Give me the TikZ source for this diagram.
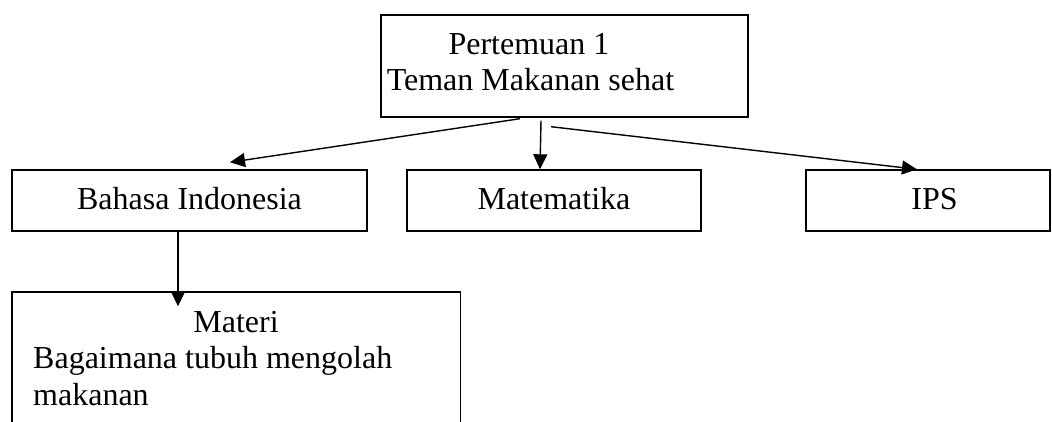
\documentclass[tikz,border=0pt]{standalone}
\usepackage{fontspec}
\setmainfont{Liberation Serif}
\usetikzlibrary{arrows.meta}
\begin{document}
\begin{tikzpicture}[x=1pt,y=-1pt,
  box/.style={draw,line width=1.4pt,rectangle,inner sep=0pt},
  txt/.style={anchor=base west,inner sep=0pt,font=\fontsize{32}{38}\selectfont},
  ctxt/.style={anchor=base,inner sep=0pt,font=\fontsize{32}{38}\selectfont},
  arr/.style={line width=1.4pt,-{Triangle[length=15pt,width=14pt]}}]
\useasboundingbox (0,0) rectangle (1052,422);
\clip (0,0) rectangle (1052,422);
% boxes
\node[box,minimum width=367pt,minimum height=102pt] (top) at (564.5,66) {};
\node[box,minimum width=355pt,minimum height=61pt] (bahasa) at (189.5,200.5) {};
\node[box,minimum width=294pt,minimum height=61pt] (mat) at (554,200.5) {};
\node[box,minimum width=244pt,minimum height=61pt] (ips) at (928,200.5) {};
\node[box,minimum width=448.5pt,minimum height=160pt] (materi) at (236.25,372) {};
% texts
\node[ctxt] (t1) at (529,55) {Pertemuan 1};
\node[ctxt] (t2) at (530.5,91) {Teman Makanan sehat};
\node[ctxt] (tb) at (189.5,210) {Bahasa Indonesia};
\node[ctxt] (tm) at (554,210) {Matematika};
\node[ctxt] (ti) at (934.5,210) {IPS};
\node[ctxt] (tmat) at (236,332) {Materi};
\node[txt] (tbag) at (33,368) {Bagaimana tubuh mengolah};
\node[txt] (tmak) at (33,405) {makanan};
% connectors
\draw[arr] ([xshift=-44.5pt,yshift=-1pt]top.south) -- ([xshift=40.5pt,yshift=7pt]bahasa.north);
\draw[arr] ([xshift=-23.5pt,yshift=-3pt]top.south) -- ([xshift=-14pt]mat.north);
\draw[arr] ([xshift=-13.5pt,yshift=-9pt]top.south) -- ([xshift=-11pt]ips.north);
\draw[arr] ([xshift=-11.5pt]bahasa.south) -- ([xshift=-58.25pt,yshift=-15pt]materi.north);
\end{tikzpicture}
\end{document}
